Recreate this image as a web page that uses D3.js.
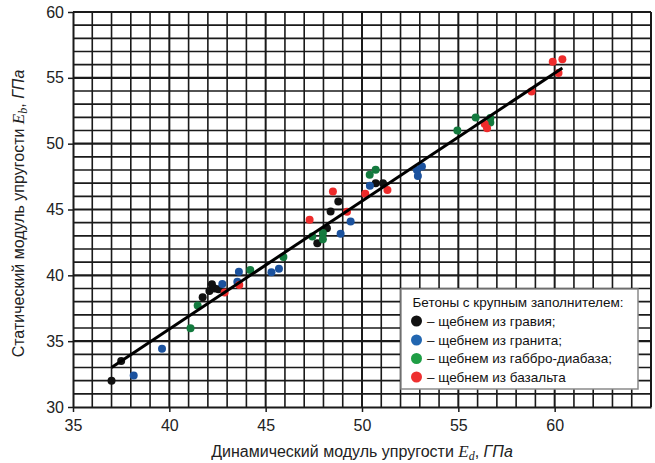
<!DOCTYPE html>
<html>
<head>
<meta charset="utf-8">
<script src="https://cdn.jsdelivr.net/npm/d3@7"></script>
<style>
  body { margin: 0; background: #fff; }
  svg { display: block; }
  .tick-label { font-family: "Liberation Sans", Arial, sans-serif; font-size: 16px; fill: #222; }
  .axis-title { font-family: "Liberation Sans", Arial, sans-serif; font-size: 16px; fill: #222; }
  .legend-text { font-family: "Liberation Sans", Arial, sans-serif; font-size: 13.5px; fill: #111; }
</style>
</head>
<body>
<div id="vis"></div>
<script>
// Declare constants
const FRAME_WIDTH = 655;
const FRAME_HEIGHT = 463;
const MARGINS = {left: 73, right: 4, top: 12, bottom: 56};

const VIS_WIDTH = FRAME_WIDTH - MARGINS.left - MARGINS.right;
const VIS_HEIGHT = FRAME_HEIGHT - MARGINS.top - MARGINS.bottom;

// data: [Ed, Eb] pairs
const gravel = [[37.0, 32.0], [37.5, 33.5], [41.73, 38.33], [42.08, 38.81], [42.21, 39.32],
  [42.35, 39.0], [42.55, 38.95], [47.68, 42.44], [48.18, 43.58], [48.37, 44.84],
  [48.77, 45.6], [50.71, 47.0], [51.09, 47.0]];
const granite = [[38.15, 32.4], [39.62, 34.43], [42.75, 39.35], [43.53, 39.52], [43.61, 40.28],
  [45.3, 40.23], [45.69, 40.5], [48.89, 43.15], [49.41, 44.08], [50.41, 46.8],
  [52.85, 48.0], [53.11, 48.26], [52.9, 47.55]];
const gabbro = [[41.1, 35.98], [41.47, 37.7], [44.2, 40.4], [45.92, 41.4], [47.42, 42.94],
  [47.97, 43.22], [47.97, 42.74], [50.4, 47.63], [50.71, 48.01], [54.95, 51.0],
  [55.9, 51.98], [56.66, 51.94], [56.66, 51.6]];
const basalt = [[42.87, 38.69], [43.63, 39.27], [47.28, 44.22], [48.49, 46.36], [49.22, 44.82],
  [50.17, 46.19], [51.32, 46.49], [56.37, 51.5], [56.49, 51.18], [58.8, 53.96],
  [59.9, 56.22], [60.4, 56.42], [60.2, 55.36]];

// regression line end points
const fitX = [37.0, 60.4];
const fitY = [33.0, 55.75];

const seriesNames = ["– щебнем из гравия;", "– щебнем из гранита;",
  "– щебнем из габбро-диабаза;", "– щебнем из базальта"];
const seriesColors = ["#111111", "#1b529e", "#137a3e", "#ee2b2b"];
const legendColors = ["#111111", "#2266b0", "#1f9e45", "#ee3030"];

const xTicks = [35, 40, 45, 50, 55, 60];
const yTicks = [30, 35, 40, 45, 50, 55, 60];

const FRAME = d3.select("#vis")
  .append("svg")
    .attr("width", FRAME_WIDTH)
    .attr("height", FRAME_HEIGHT);

const X_SCALE = d3.scaleLinear().domain([35, 65]).range([0, VIS_WIDTH]);
const Y_SCALE = d3.scaleLinear().domain([30, 60]).range([VIS_HEIGHT, 0]);

const PLOT = FRAME.append("g")
  .attr("transform", "translate(" + MARGINS.left + "," + MARGINS.top + ")");

// grid, one line per unit, heavier every 5
PLOT.append("g")
  .selectAll("line")
  .data(d3.range(36, 66))
  .enter()
  .append("line")
    .attr("x1", d => X_SCALE(d)).attr("x2", d => X_SCALE(d))
    .attr("y1", 0).attr("y2", VIS_HEIGHT)
    .attr("stroke", "#1a1a1a")
    .attr("stroke-width", d => d % 5 === 0 ? 2 : 1.6);

PLOT.append("g")
  .selectAll("line")
  .data(d3.range(31, 61))
  .enter()
  .append("line")
    .attr("x1", 0).attr("x2", VIS_WIDTH)
    .attr("y1", d => Y_SCALE(d)).attr("y2", d => Y_SCALE(d))
    .attr("stroke", "#1a1a1a")
    .attr("stroke-width", d => d % 5 === 0 ? 2.2 : 1.6);

// axes
const xAxis = PLOT.append("g")
  .attr("transform", "translate(0," + VIS_HEIGHT + ")")
  .call(d3.axisBottom(X_SCALE).tickValues(xTicks).tickSize(5).tickSizeOuter(0));
const yAxis = PLOT.append("g")
  .call(d3.axisLeft(Y_SCALE).tickValues(yTicks).tickSize(5).tickSizeOuter(0));

[xAxis, yAxis].forEach(a => {
  a.select(".domain").attr("stroke", "#1a1a1a").attr("stroke-width", 2);
  a.selectAll(".tick line").attr("stroke", "#1a1a1a").attr("stroke-width", 1.5);
  a.selectAll(".tick text").attr("class", "tick-label").attr("font-size", null)
    .attr("font-family", null).attr("fill", null);
});
xAxis.selectAll(".tick text").attr("dy", "0.95em").attr("y", 9);
yAxis.selectAll(".tick text").attr("x", -9);

// points
const allSeries = [gravel, granite, gabbro, basalt];
allSeries.forEach((s, i) => {
  PLOT.append("g")
    .selectAll("circle")
    .data(s)
    .enter()
    .append("circle")
      .attr("cx", d => X_SCALE(d[0]))
      .attr("cy", d => Y_SCALE(d[1]))
      .attr("r", 4)
      .attr("fill", seriesColors[i]);
});

// fit line
PLOT.append("path")
  .datum(d3.zip(fitX, fitY))
  .attr("d", d3.line().x(d => X_SCALE(d[0])).y(d => Y_SCALE(d[1])))
  .attr("stroke", "#000")
  .attr("stroke-width", 3)
  .attr("fill", "none");

// legend
const LEG = FRAME.append("g").attr("transform", "translate(401,289)");
LEG.append("rect")
  .attr("width", 237).attr("height", 100)
  .attr("fill", "#fff")
  .attr("stroke", "#8a8a8a")
  .attr("stroke-width", 1.5);
LEG.append("text")
  .attr("class", "legend-text")
  .attr("x", 11.5).attr("y", 13)
  .attr("dy", "0.35em")
  .text("Бетоны с крупным заполнителем:");
const rowY = [32, 51, 69.5, 88];
seriesNames.forEach((name, i) => {
  LEG.append("circle")
    .attr("cx", 15.5).attr("cy", rowY[i]).attr("r", 5.5)
    .attr("fill", legendColors[i]);
  LEG.append("text")
    .attr("class", "legend-text")
    .attr("x", 26).attr("y", rowY[i]).attr("dy", "0.35em")
    .text(name);
});

// axis titles
const xTitle = FRAME.append("text")
  .attr("class", "axis-title")
  .attr("x", MARGINS.left + VIS_WIDTH / 2)
  .attr("y", 457)
  .attr("text-anchor", "middle");
xTitle.append("tspan").text("Динамический модуль упругости ");
xTitle.append("tspan").attr("font-family", "Liberation Serif, serif").attr("font-style", "italic")
  .attr("font-size", "17px").text("E");
xTitle.append("tspan").attr("font-family", "Liberation Serif, serif").attr("font-style", "italic")
  .attr("font-size", "12px").attr("dy", "3").text("d");
xTitle.append("tspan").attr("dy", "-3").text(", ");
xTitle.append("tspan").attr("font-style", "italic").text("ГПа");

const yTitle = FRAME.append("text")
  .attr("class", "axis-title")
  .attr("transform", "translate(24," + (MARGINS.top + VIS_HEIGHT / 2 + 4) + ") rotate(-90)")
  .attr("text-anchor", "middle");
yTitle.append("tspan").text("Статический модуль упругости ");
yTitle.append("tspan").attr("font-family", "Liberation Serif, serif").attr("font-style", "italic")
  .attr("font-size", "17px").text("E");
yTitle.append("tspan").attr("font-family", "Liberation Serif, serif").attr("font-style", "italic")
  .attr("font-size", "12px").attr("dy", "3").text("b");
yTitle.append("tspan").attr("dy", "-3").text(", ");
yTitle.append("tspan").attr("font-style", "italic").text("ГПа");
</script>
</body>
</html>
